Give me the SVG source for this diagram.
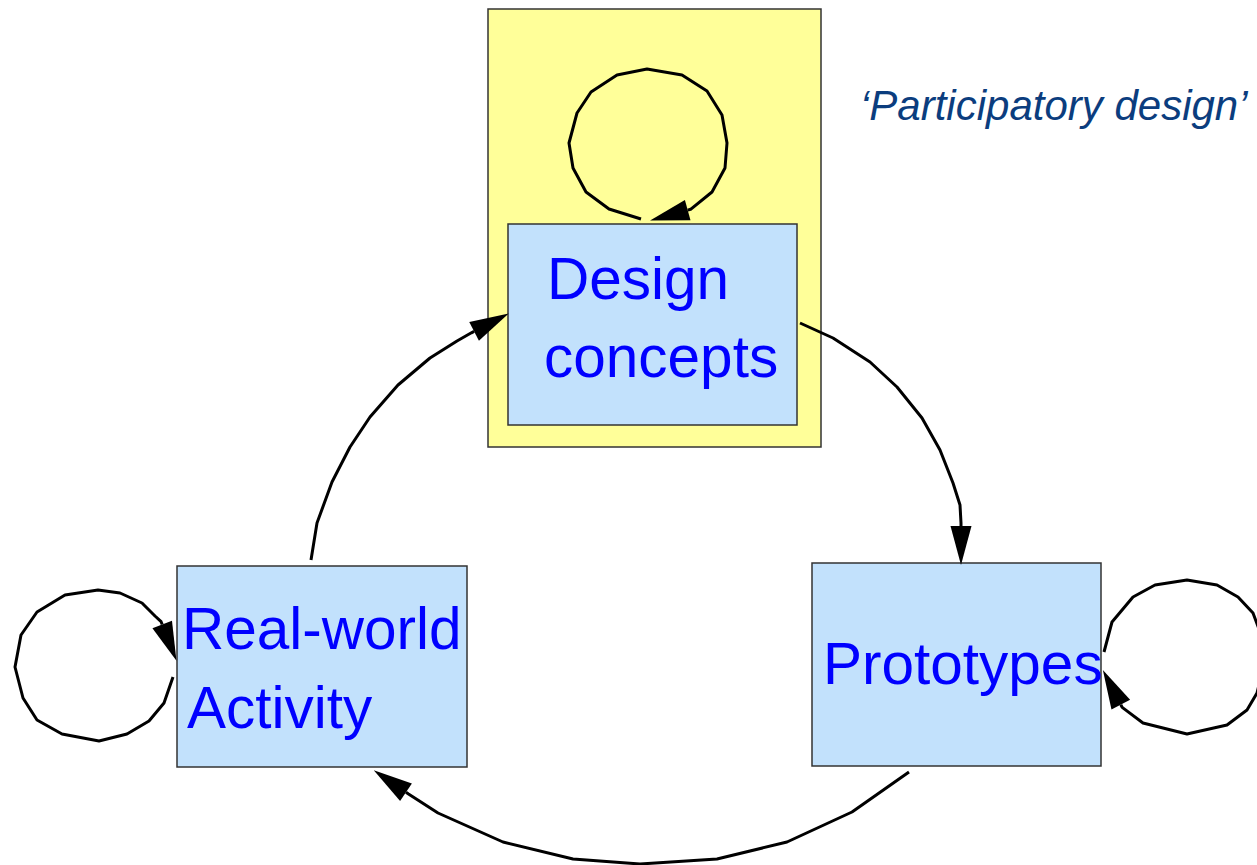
<svg xmlns="http://www.w3.org/2000/svg" width="1257" height="865" viewBox="0 0 1257 865">
<style>
.box{fill:#c2e1fc;stroke:#333;stroke-width:1.5}
.grp{fill:#ffff99;stroke:#333;stroke-width:1.5}
.lbl{font-family:"Liberation Sans",Arial,sans-serif;font-size:58.5px;fill:#0000ff}
.note{font-family:"Liberation Sans",Arial,sans-serif;font-size:42px;font-style:italic;fill:#0b3d7e}
.c{fill:none;stroke:#000;stroke-width:3;stroke-linejoin:round;marker-end:url(#ah)}
</style>
<defs>
<marker id="ah" markerUnits="userSpaceOnUse" markerWidth="42" markerHeight="24" viewBox="0 -12 42 24" refX="0" refY="0" orient="auto" overflow="visible">
<path d="M0,-10.5 L39,0 L0,10.5 Z" fill="#000"/>
</marker>
</defs>
<g id="participatory-area">
<rect class="grp" x="488" y="9" width="333" height="438"/>
<text class="note" x="860" y="120">‘Participatory design’</text>
</g>
<g id="design-concepts">
<rect class="box" x="508" y="224" width="289" height="201"/>
<text class="lbl" x="547" y="299">Design</text>
<text class="lbl" x="544" y="377">concepts</text>
</g>
<g id="real-world-activity">
<rect class="box" x="177" y="566" width="290" height="201"/>
<text class="lbl" x="182" y="649">Real-world</text>
<text class="lbl" x="187" y="728">Activity</text>
</g>
<g id="prototypes">
<rect class="box" x="812" y="563" width="289" height="203"/>
<text class="lbl" x="823" y="684">Prototypes</text>
</g>
<g id="connectors">
<polyline class="c" points="641,219 609,209 586,192 573,168 569,143 577,113 591,92 617,75 647,69 682,75 707,91 722,115 727,143 725,168 712,192 690.6,209.3 687.7,210.1"/>
<polyline class="c" points="173,677 164,703 149,721 127,734 99,741 62,734 37,720 23,698 15,667 21,635 37,612 65,595 98,590 120,593 142,603 155,616 161.1,621.7 162.2,624.5"/>
<polyline class="c" points="1104,652 1112,622 1133,597 1155,585 1187,580 1217,585 1238,597 1253,613 1263,640 1264,665 1257,693 1247,710 1227,725 1187,734 1143,723 1122.2,707.4 1120.8,704.7"/>
<polyline class="c" points="909,772 852,812 787,842 717,859 640,864 573,859 503,842 438,813 408.5,794 406,792.3"/>
<polyline class="c" points="311,560 317,523 332,482 350,447 370,417 398,385 430,358 457,341 471.4,332.8 474.1,331.4"/>
<polyline class="c" points="800,323 833,338 870,362 897,387 922,418 940,450 953,483 960,505 961,523 961,526"/>
</g>
</svg>
